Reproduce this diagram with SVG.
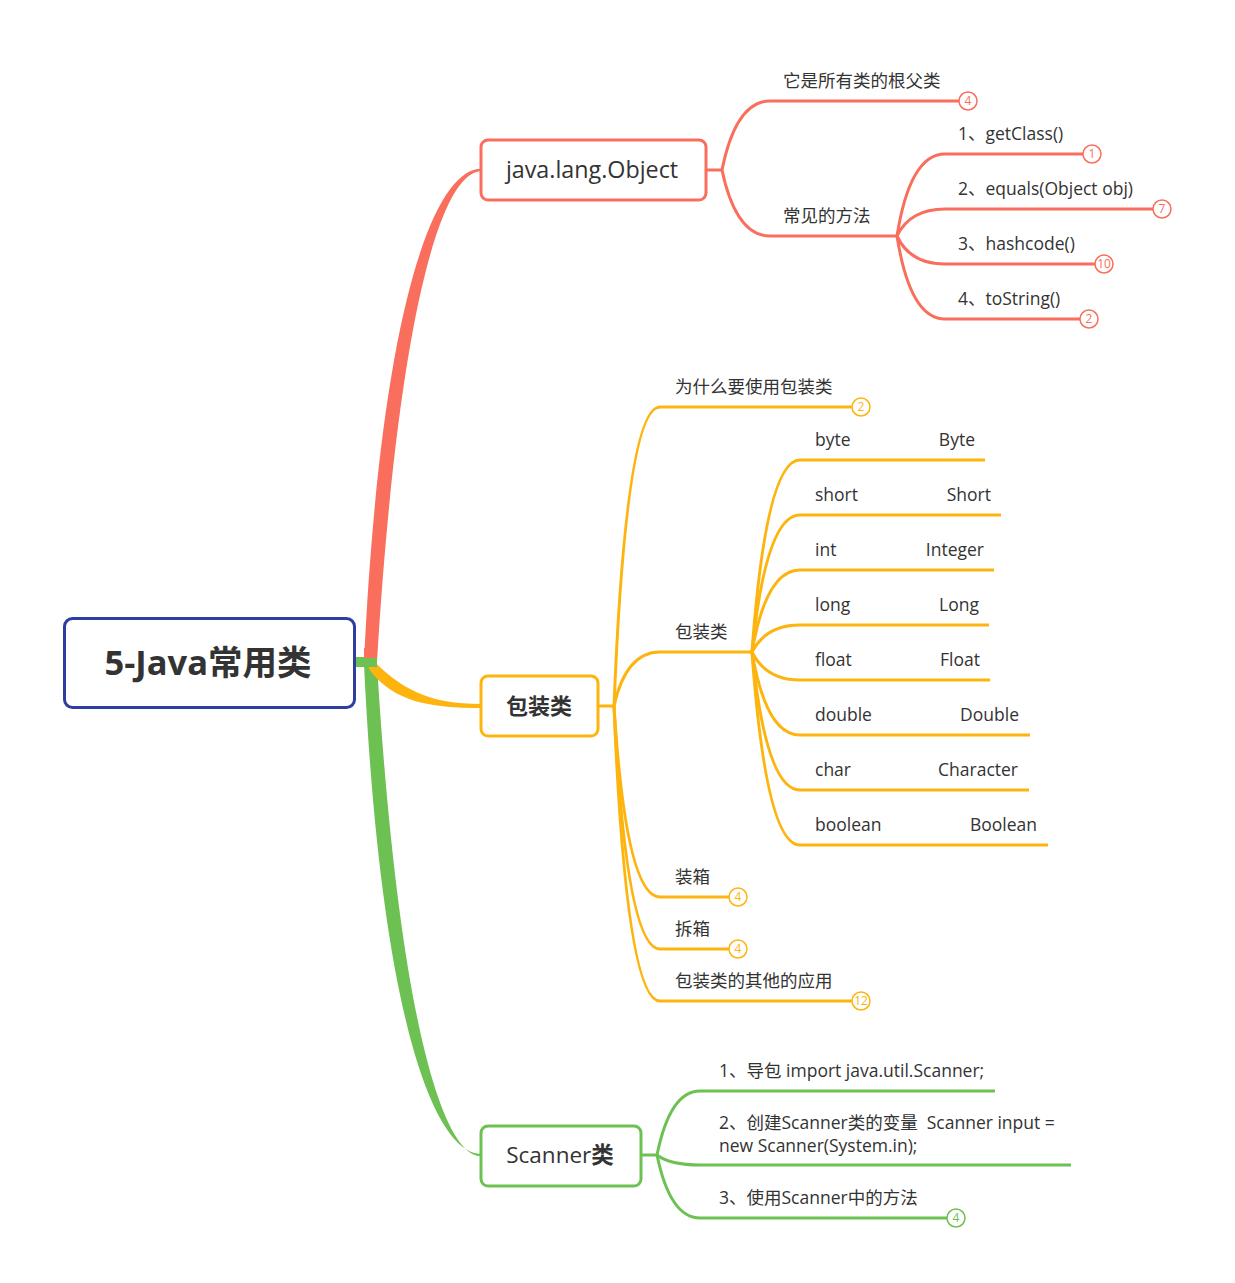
<svg xmlns="http://www.w3.org/2000/svg" width="1235" height="1283" viewBox="0 0 1235 1283">
<style>
text{font-family:"Open Sans","Noto Sans CJK SC",sans-serif;fill:#333333}
.t{font-size:17.5px}
.b{font-size:12px;text-anchor:middle}
.r{stroke:#F96E5C}
.o{stroke:#FDB40F}
.g{stroke:#6DC152}
.ln{fill:none;stroke-width:3}
.bd{fill:#fff;stroke-width:1.5}
.box{fill:#fff;stroke-width:3}
</style>
<rect width="1235" height="1283" fill="#fff"/>
<g id="connectors">
  <path d="M364,662 C381,300 436,168.8 481,168.8 L481,171.2 C444,171.2 399,300 377,662 Z" fill="#F96E5C"/>
  <path d="M364,664 C381,1025 436,1153.8 481,1153.8 L481,1156.2 C444,1156.2 399,1025 377,664 Z" fill="#6DC152"/>
  <path d="M367,654 C400,690 430,704 481,704 L481,708 C430,708 393,702 369,669 Z" fill="#FDB40F"/>
  <rect x="354" y="657" width="23" height="10" fill="#6DC152"/>
  <rect x="364" y="648" width="13" height="10" fill="#F96E5C"/>
  <!-- Object -->
  <g class="ln r">
    <path d="M706,170 L722,170"/>
    <path d="M722,170 Q736,101 770,101 L959,101"/>
    <path d="M722,170 Q736,236 770,236 L897,236"/>
    <path d="M897,236 Q910,154 945,154 L1083,154"/>
    <path d="M897,236 Q910,209 945,209 L1153,209"/>
    <path d="M897,236 Q910,264 945,264 L1095,264"/>
    <path d="M897,236 Q910,319 945,319 L1080,319"/>
  </g>
  <!-- wrapper -->
  <g class="ln o">
    <path d="M598,706 L614,706"/>
    <path d="M614,706 Q626,407 660,407 L852,407"/>
    <path d="M614,706 Q626,652 660,652 L752,652"/>
    <path d="M614,706 Q626,897 660,897 L729,897"/>
    <path d="M614,706 Q626,949 660,949 L729,949"/>
    <path d="M614,706 Q626,1001 660,1001 L852,1001"/>
    <path d="M752,652 Q766,460 800,460 L985,460"/>
    <path d="M752,652 Q766,515 800,515 L1001,515"/>
    <path d="M752,652 Q766,570 800,570 L994,570"/>
    <path d="M752,652 Q766,625 800,625 L989,625"/>
    <path d="M752,652 Q766,680 800,680 L990,680"/>
    <path d="M752,652 Q766,735 800,735 L1030,735"/>
    <path d="M752,652 Q766,790 800,790 L1029,790"/>
    <path d="M752,652 Q766,845 800,845 L1048,845"/>
  </g>
  <!-- scanner -->
  <g class="ln g">
    <path d="M641,1155 L657,1155"/>
    <path d="M657,1155 Q670,1091 700,1091 L995,1091"/>
    <path d="M657,1155 Q670,1165 700,1165 L1071,1165"/>
    <path d="M657,1155 Q670,1218 700,1218 L947,1218"/>
  </g>
</g>
<g id="root">
  <rect x="64.5" y="618.5" width="290" height="89" rx="8" fill="#fff" stroke="#2F3E9E" stroke-width="3"/>
  <text x="208" y="675" font-size="34.5" font-weight="bold" text-anchor="middle">5-Java常用类</text>
</g>
<g id="object">
  <rect class="box r" x="481" y="140" width="225" height="60" rx="7"/>
  <text x="592" y="178" font-size="23.3" text-anchor="middle">java.lang.Object</text>
</g>
<g id="object-root-parent">
  <text class="t" x="783" y="87">它是所有类的根父类</text>
  <circle class="bd r" cx="968" cy="101" r="9"/><text class="b" x="968" y="105" style="fill:#F96E5C">4</text>
</g>
<g id="object-methods">
  <text class="t" x="783" y="222">常见的方法</text>
</g>
<g id="m1"><text class="t" x="958" y="140">1、getClass()</text>
  <circle class="bd r" cx="1092" cy="154" r="9"/><text class="b" x="1092" y="158" style="fill:#F96E5C">1</text></g>
<g id="m2"><text class="t" x="958" y="195">2、equals(Object obj)</text>
  <circle class="bd r" cx="1162" cy="209" r="9"/><text class="b" x="1162" y="213" style="fill:#F96E5C">7</text></g>
<g id="m3"><text class="t" x="958" y="250">3、hashcode()</text>
  <circle class="bd r" cx="1104" cy="264" r="9"/><text class="b" x="1104" y="268" style="fill:#F96E5C">10</text></g>
<g id="m4"><text class="t" x="958" y="305">4、toString()</text>
  <circle class="bd r" cx="1089" cy="319" r="9"/><text class="b" x="1089" y="323" style="fill:#F96E5C">2</text></g>

<g id="wrapper">
  <rect class="box o" x="481" y="676" width="117" height="60" rx="7"/>
  <text x="539" y="714" font-size="22" font-weight="bold" text-anchor="middle">包装类</text>
</g>
<g id="why"><text class="t" x="675" y="393">为什么要使用包装类</text>
  <circle class="bd o" cx="861" cy="407" r="9"/><text class="b" x="861" y="411" style="fill:#FDB40F">2</text></g>
<g id="wrap-types"><text class="t" x="675" y="638">包装类</text></g>
<g id="w1"><text class="t" x="815" y="446">byte</text><text class="t" x="975" y="446" text-anchor="end">Byte</text></g>
<g id="w2"><text class="t" x="815" y="501">short</text><text class="t" x="991" y="501" text-anchor="end">Short</text></g>
<g id="w3"><text class="t" x="815" y="556">int</text><text class="t" x="984" y="556" text-anchor="end">Integer</text></g>
<g id="w4"><text class="t" x="815" y="611">long</text><text class="t" x="979" y="611" text-anchor="end">Long</text></g>
<g id="w5"><text class="t" x="815" y="666">float</text><text class="t" x="980" y="666" text-anchor="end">Float</text></g>
<g id="w6"><text class="t" x="815" y="721">double</text><text class="t" x="1019" y="721" text-anchor="end">Double</text></g>
<g id="w7"><text class="t" x="815" y="776">char</text><text class="t" x="1018" y="776" text-anchor="end">Character</text></g>
<g id="w8"><text class="t" x="815" y="831">boolean</text><text class="t" x="1037" y="831" text-anchor="end">Boolean</text></g>
<g id="boxing"><text class="t" x="675" y="883">装箱</text>
  <circle class="bd o" cx="738" cy="897" r="9"/><text class="b" x="738" y="901" style="fill:#FDB40F">4</text></g>
<g id="unboxing"><text class="t" x="675" y="935">拆箱</text>
  <circle class="bd o" cx="738" cy="949" r="9"/><text class="b" x="738" y="953" style="fill:#FDB40F">4</text></g>
<g id="other"><text class="t" x="675" y="987">包装类的其他的应用</text>
  <circle class="bd o" cx="861" cy="1001" r="9"/><text class="b" x="861" y="1005" style="fill:#FDB40F">12</text></g>

<g id="scanner">
  <rect class="box g" x="481" y="1126" width="160" height="60" rx="7"/>
  <text x="560" y="1163" font-size="22.5" text-anchor="middle">Scanner<tspan font-weight="bold">类</tspan></text>
</g>
<g id="s1"><text class="t" x="719" y="1077">1、导包 import java.util.Scanner;</text></g>
<g id="s2"><text class="t" x="719" y="1129" style="white-space:pre">2、创建Scanner类的变量  Scanner input =</text>
  <text class="t" x="719" y="1152">new Scanner(System.in);</text></g>
<g id="s3"><text class="t" x="719" y="1204">3、使用Scanner中的方法</text>
  <circle class="bd g" cx="956" cy="1218" r="9"/><text class="b" x="956" y="1222" style="fill:#6DC152">4</text></g>
</svg>
